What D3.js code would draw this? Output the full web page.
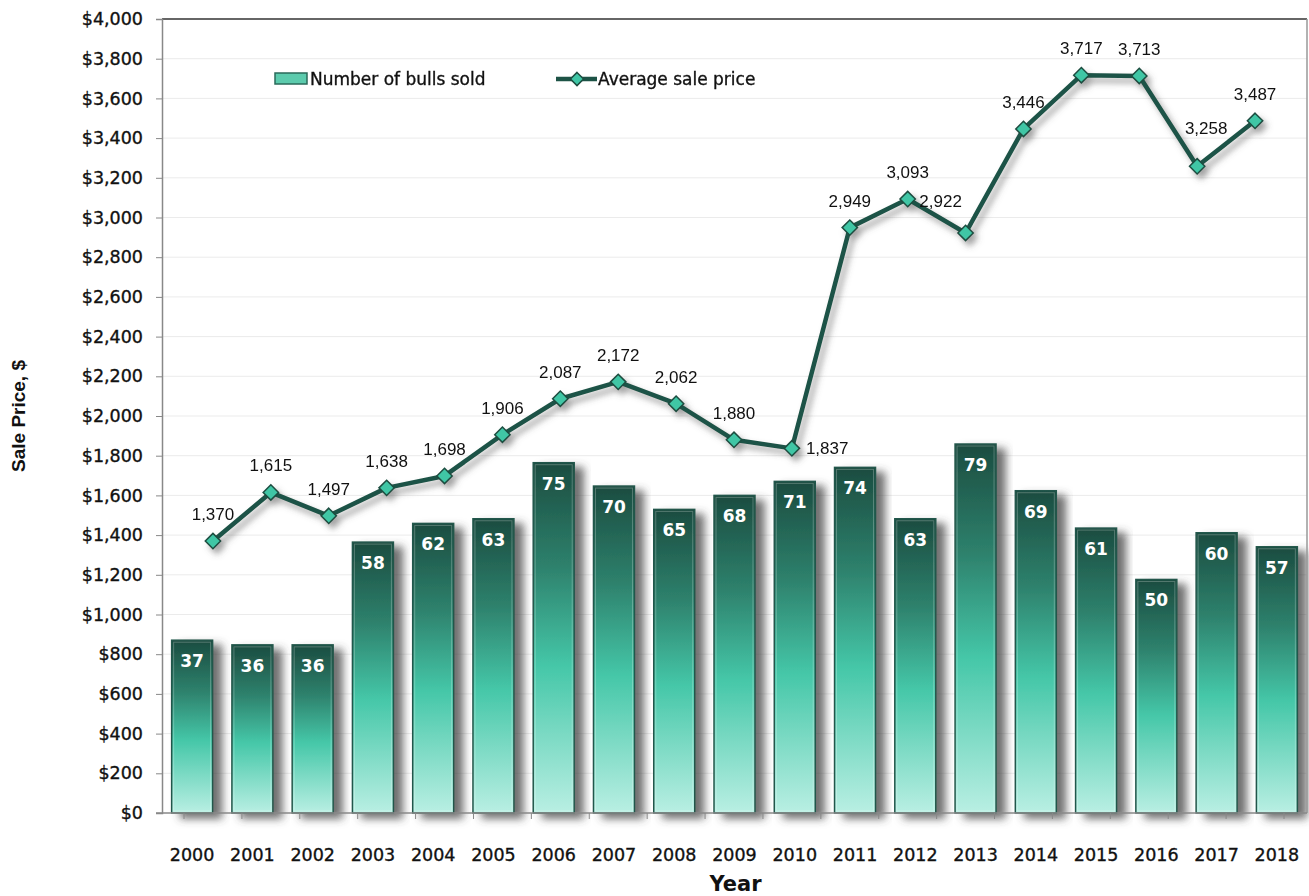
<!DOCTYPE html>
<html>
<head>
<meta charset="utf-8">
<script src="https://cdn.jsdelivr.net/npm/d3@7"></script>
<style>
  body { margin: 0; background: #fff; }
  svg { display: block; }
</style>
</head>
<body>
<div id="chart"></div>
<script>
// Data
const years = ["2000","2001","2002","2003","2004","2005","2006","2007","2008","2009","2010","2011","2012","2013","2014","2015","2016","2017","2018"];
const bullsSold = [37, 36, 36, 58, 62, 63, 75, 70, 65, 68, 71, 74, 63, 79, 69, 61, 50, 60, 57];
const avgPrice = [1370, 1615, 1497, 1638, 1698, 1906, 2087, 2172, 2062, 1880, 1837, 2949, 3093, 2922, 3446, 3717, 3713, 3258, 3487];
const priceTicks = [0, 200, 400, 600, 800, 1000, 1200, 1400, 1600, 1800, 2000, 2200, 2400, 2600, 2800, 3000, 3200, 3400, 3600, 3800, 4000];
// label placement for the price labels (most sit above the point)
const labelSide = {"2010": "right", "2013": "left", "2017": "high"};

var width = 1309, height = 896;
var margin = {left: 162, right: 2, top: 19, bottom: 83};
var svg = d3.select("#chart").append("svg").attr("width", width).attr("height", height);

var plotW = width - margin.left - margin.right;
var plotH = height - margin.top - margin.bottom;
var g = svg.append("g").attr("transform", "translate(" + margin.left + "," + margin.top + ")");

var tickFont = "DejaVu Sans, Verdana, sans-serif";
var labelFont = "Liberation Sans, Arial, sans-serif";

// scales
var xBar = d3.scaleBand().domain(years).range([0, plotW]).paddingInner(0.32).paddingOuter(0.16);
// line sits on its own (secondary) category axis, a bit narrower
var xLine = d3.scaleBand().domain(years).range([22, plotW - 23]);
var yPrice = d3.scaleLinear().domain([0, 4000]).range([plotH, 0]);
var yCount = d3.scaleLinear().domain([0, 170]).range([plotH, 0]);

var defs = svg.append("defs");

var grad = defs.append("linearGradient").attr("id", "barGrad")
  .attr("x1", "0%").attr("y1", "0%").attr("x2", "0%").attr("y2", "100%");
grad.append("stop").attr("offset", "0%").attr("stop-color", "#1b4c40");
grad.append("stop").attr("offset", "30%").attr("stop-color", "#2e826d");
grad.append("stop").attr("offset", "58%").attr("stop-color", "#45c7a8");
grad.append("stop").attr("offset", "100%").attr("stop-color", "#b9efe3");

var sh = defs.append("filter").attr("id", "shadow")
  .attr("x", "-20%").attr("y", "-20%").attr("width", "160%").attr("height", "140%");
sh.append("feDropShadow").attr("dx", 9).attr("dy", 5).attr("stdDeviation", 4)
  .attr("flood-color", "#404040").attr("flood-opacity", 0.75);

var shLine = defs.append("filter").attr("id", "lineShadow")
  .attr("x", "-10%").attr("y", "-10%").attr("width", "120%").attr("height", "130%");
shLine.append("feDropShadow").attr("dx", 4).attr("dy", 5).attr("stdDeviation", 3)
  .attr("flood-color", "#555").attr("flood-opacity", 0.55);

// gridlines
g.append("g").selectAll("line")
  .data(priceTicks.slice(1, -1))
  .enter().append("line")
  .attr("x1", 0).attr("x2", plotW)
  .attr("y1", d => yPrice(d)).attr("y2", d => yPrice(d))
  .attr("stroke", "#ebebeb").attr("stroke-width", 1);

// bars
var bars = g.append("g").selectAll("g.bar")
  .data(years.map((y, i) => ({year: y, n: bullsSold[i]})))
  .enter().append("g").attr("class", "bar");

bars.append("rect")
  .attr("x", d => xBar(d.year))
  .attr("y", d => yCount(d.n))
  .attr("width", xBar.bandwidth())
  .attr("height", d => plotH - yCount(d.n))
  .attr("fill", "url(#barGrad)")
  .attr("stroke", "#24574b")
  .attr("stroke-width", 1.5)
  .style("filter", "url(#shadow)");

// thin highlight on the bar edge
bars.append("rect")
  .attr("x", d => xBar(d.year) + 2)
  .attr("y", d => yCount(d.n) + 2)
  .attr("width", xBar.bandwidth() - 4)
  .attr("height", d => plotH - yCount(d.n) - 4)
  .attr("fill", "none")
  .attr("stroke", "#ffffff")
  .attr("stroke-opacity", 0.25)
  .attr("stroke-width", 1);

bars.append("text")
  .attr("x", d => xBar(d.year) + xBar.bandwidth() / 2)
  .attr("y", d => yCount(d.n) + 27)
  .attr("text-anchor", "middle")
  .attr("font-family", tickFont)
  .attr("font-weight", "bold")
  .attr("font-size", "17px")
  .attr("fill", "#ffffff")
  .text(d => d.n);

// axes frame
g.append("line").attr("x1", 0).attr("x2", plotW).attr("y1", 0).attr("y2", 0)
  .attr("stroke", "#666").attr("stroke-width", 2);
g.append("line").attr("x1", plotW).attr("x2", plotW).attr("y1", 0).attr("y2", plotH)
  .attr("stroke", "#999").attr("stroke-width", 1.5);

// y axis
var yAxis = d3.axisLeft(yPrice).tickValues(priceTicks).tickSize(6).tickPadding(13)
  .tickFormat(d => "$" + d3.format(",")(d));
var ya = g.append("g").call(yAxis);
ya.select(".domain").attr("stroke", "#888").attr("stroke-width", 1.5);
ya.selectAll(".tick line").attr("stroke", "#888");
ya.selectAll("text")
  .attr("font-family", tickFont)
  .attr("font-size", "17.5px")
  .attr("fill", "#111")
  .attr("stroke", "#111")
  .attr("stroke-width", 0.35);

// x axis: tick marks follow the line's category axis, labels follow the bars
var xa = g.append("g").attr("transform", "translate(0," + plotH + ")");
xa.append("line").attr("x1", -6).attr("x2", plotW).attr("y1", 0).attr("y2", 0)
  .attr("stroke", "#888").attr("stroke-width", 1.5);
var tickPos = years.map(y => xLine(y)).concat([xLine(years[years.length - 1]) + xLine.bandwidth()]);
xa.selectAll("line.tk").data(tickPos).enter().append("line").attr("class", "tk")
  .attr("x1", d => d).attr("x2", d => d).attr("y1", 0).attr("y2", 6)
  .attr("stroke", "#888");
xa.selectAll("text").data(years).enter().append("text")
  .attr("x", d => xBar(d) + xBar.bandwidth() / 2)
  .attr("y", 48)
  .attr("text-anchor", "middle")
  .attr("font-family", tickFont)
  .attr("font-size", "17.5px")
  .attr("fill", "#111")
  .attr("stroke", "#111")
  .attr("stroke-width", 0.35)
  .text(d => d);

// price line
var pts = years.map((y, i) => ({year: y, v: avgPrice[i]}));
var line = d3.line().x(d => xLine(d.year) + xLine.bandwidth() / 2).y(d => yPrice(d.v));
var lineG = g.append("g").style("filter", "url(#lineShadow)");
lineG.append("path").datum(pts)
  .attr("d", line)
  .attr("fill", "none")
  .attr("stroke", "#1d5346")
  .attr("stroke-width", 4.5)
  .attr("stroke-linejoin", "round");

var diamond = d3.symbol().type(d3.symbolDiamond2).size(150);
lineG.selectAll("path.pt").data(pts).enter().append("path").attr("class", "pt")
  .attr("d", diamond)
  .attr("transform", d => "translate(" + (xLine(d.year) + xLine.bandwidth() / 2) + "," + yPrice(d.v) + ")")
  .attr("fill", "#3fc6a5")
  .attr("stroke", "#1d4d40")
  .attr("stroke-width", 1.5);

g.append("g").selectAll("text").data(pts).enter().append("text")
  .attr("x", function (d) {
    var cx = xLine(d.year) + xLine.bandwidth() / 2;
    if (labelSide[d.year] === "right") return cx + 14;
    if (labelSide[d.year] === "left") return cx - 25;
    if (labelSide[d.year] === "high") return cx + 9;
    return cx;
  })
  .attr("y", function (d) {
    var cy = yPrice(d.v);
    if (labelSide[d.year] === "right") return cy + 6;
    if (labelSide[d.year] === "left") return cy - 26;
    if (labelSide[d.year] === "high") return cy - 32;
    return cy - 21;
  })
  .attr("text-anchor", d => labelSide[d.year] === "right" ? "start" : "middle")
  .attr("font-family", labelFont)
  .attr("font-size", "17px")
  .attr("fill", "#111")
  .text(d => d3.format(",")(d.v));

// legend
var leg = svg.append("g");
leg.append("rect").attr("x", 275).attr("y", 73).attr("width", 32).attr("height", 11)
  .attr("fill", "#5ccbad").attr("stroke", "#2a6a5a").attr("stroke-width", 1.5);
leg.append("text").attr("x", 310).attr("y", 85)
  .attr("font-family", tickFont)
  .attr("font-size", "17px").attr("fill", "#111")
  .attr("stroke", "#111").attr("stroke-width", 0.35)
  .text("Number of bulls sold");
leg.append("line").attr("x1", 556).attr("x2", 597).attr("y1", 79).attr("y2", 79)
  .attr("stroke", "#1d5346").attr("stroke-width", 4.5);
leg.append("path").attr("d", d3.symbol().type(d3.symbolDiamond2).size(110))
  .attr("transform", "translate(577,79)")
  .attr("fill", "#3fc6a5").attr("stroke", "#1d4d40").attr("stroke-width", 1.5);
leg.append("text").attr("x", 598).attr("y", 85)
  .attr("font-family", tickFont)
  .attr("font-size", "17px").attr("fill", "#111")
  .attr("stroke", "#111").attr("stroke-width", 0.35)
  .text("Average sale price");

// axis titles
svg.append("text")
  .attr("transform", "translate(25," + (margin.top + plotH / 2) + ") rotate(-90)")
  .attr("text-anchor", "middle")
  .attr("font-family", labelFont)
  .attr("font-weight", "bold")
  .attr("font-size", "19px")
  .attr("fill", "#111")
  .text("Sale Price, $");

svg.append("text")
  .attr("x", margin.left + plotW / 2 + 1)
  .attr("y", 891)
  .attr("text-anchor", "middle")
  .attr("font-family", tickFont)
  .attr("font-weight", "bold")
  .attr("font-size", "21px")
  .attr("fill", "#111")
  .text("Year");
</script>
</body>
</html>
